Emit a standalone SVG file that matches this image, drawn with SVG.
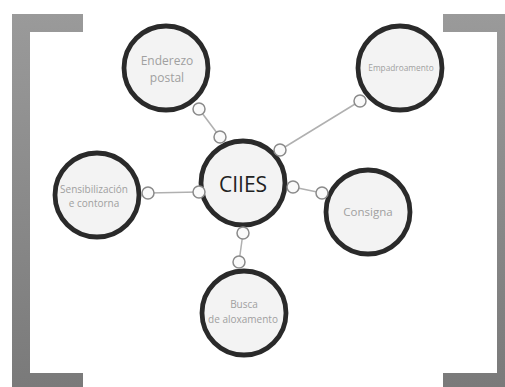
<svg xmlns="http://www.w3.org/2000/svg" width="505" height="387" viewBox="0 0 505 387">
<defs>
<linearGradient id="br" x1="0" y1="0" x2="0" y2="1">
<stop offset="0" stop-color="#9a9a9a"/>
<stop offset="1" stop-color="#7a7a7a"/>
</linearGradient>
<style>
.node{fill:#f3f3f3;stroke:#2a2a2a;stroke-width:4.8}
.lbl{font-family:"Open Sans","Noto Sans",sans-serif;fill:#a0a0a0;text-anchor:middle}
.main{font-family:"Open Sans","Noto Sans",sans-serif;fill:#222;text-anchor:middle;font-size:21px}
.ln{stroke:#b0b0b0;stroke-width:1.5;fill:none}
.knob{fill:#fafafa;stroke:#8a8a8a;stroke-width:1.5}
</style>
</defs>
<rect width="505" height="387" fill="#ffffff"/>
<g id="brackets" fill="url(#br)">
<path d="M12 14 H83 V32 H30 V373 H83 V387 H12 Z"/>
<path d="M505 14 H443 V32 H497 V373 H443 V387 H505 Z"/>
</g>
<g id="connectors">
<line class="ln" x1="199" y1="109" x2="220" y2="137"/>
<line class="ln" x1="360" y1="101" x2="280" y2="150"/>
<line class="ln" x1="148" y1="193" x2="199" y2="192"/>
<line class="ln" x1="293" y1="187" x2="322" y2="193"/>
<line class="ln" x1="243" y1="233" x2="239" y2="262"/>
</g>
<g id="n-enderezo">
<circle class="node" cx="166" cy="68" r="42"/>
<text class="lbl" font-size="12" x="167" y="65">Enderezo</text>
<text class="lbl" font-size="12" x="167" y="82">postal</text>
</g>
<g id="n-empadroamento">
<circle class="node" cx="400" cy="68" r="42"/>
<text class="lbl" font-size="8.3" x="401" y="71">Empadroamento</text>
</g>
<g id="n-ciies">
<circle class="node" cx="243" cy="183" r="42"/>
<text class="main" x="243" y="192">CIIES</text>
</g>
<g id="n-sensibilizacion">
<circle class="node" cx="97" cy="195" r="42"/>
<text class="lbl" font-size="10" x="94" y="193">Sensibilización</text>
<text class="lbl" font-size="10" x="94" y="207">e contorna</text>
</g>
<g id="n-consigna">
<circle class="node" cx="368" cy="212" r="42"/>
<text class="lbl" font-size="11.5" x="368" y="216">Consigna</text>
</g>
<g id="n-busca">
<circle class="node" cx="244" cy="313" r="42"/>
<text class="lbl" font-size="10" x="244" y="308">Busca</text>
<text class="lbl" font-size="10" x="243" y="323">de aloxamento</text>
</g>
<g id="knobs">
<circle class="knob" cx="199" cy="109" r="6"/>
<circle class="knob" cx="220" cy="137" r="6"/>
<circle class="knob" cx="360" cy="101" r="6"/>
<circle class="knob" cx="280" cy="150" r="6"/>
<circle class="knob" cx="148" cy="193" r="6"/>
<circle class="knob" cx="199" cy="192" r="6"/>
<circle class="knob" cx="293" cy="187" r="6"/>
<circle class="knob" cx="322" cy="193" r="6"/>
<circle class="knob" cx="243" cy="233" r="6"/>
<circle class="knob" cx="239" cy="262" r="6"/>
</g>
</svg>
